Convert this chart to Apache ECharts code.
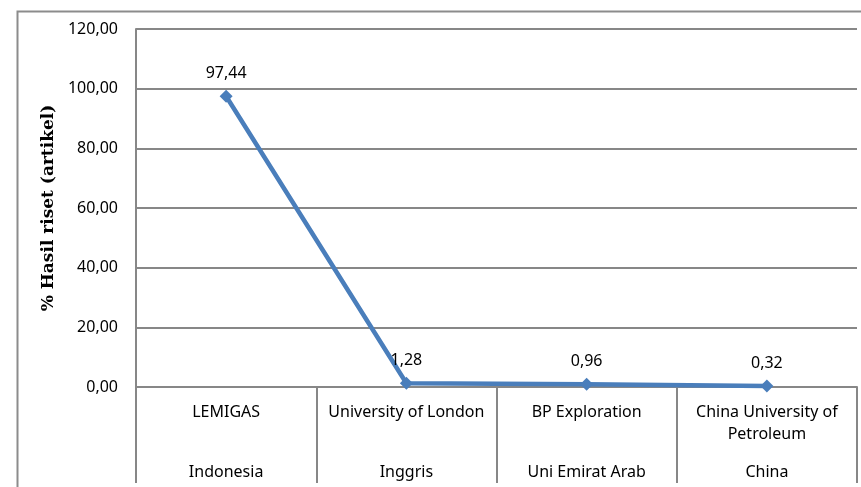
<!DOCTYPE html>
<html>
<head>
<meta charset="utf-8">
<script src="https://cdn.jsdelivr.net/npm/echarts@6/dist/echarts.min.js"></script>
<style>
  html, body { margin: 0; padding: 0; background: #fff; }
  #chart { width: 861px; height: 487px; }
</style>
</head>
<body>
<div id="chart"></div>
<script>
// institusi dan negara (dua tingkat sumbu kategori)
var institutions = ['LEMIGAS', 'University of London', 'BP Exploration', 'China University of\nPetroleum'];
var countries = ['Indonesia', 'Inggris', 'Uni Emirat Arab', 'China'];
var percentValues = [97.44, 1.28, 0.96, 0.32];

var yTicks = { min: 0, max: 120, step: 20 };

var gridColor = '#878787';
var lineColor = '#4A7EBB';
var font = 'Noto Sans';

function commaFmt(v) {
    return Number(v).toFixed(2).replace('.', ',');
}

var chart = echarts.init(document.getElementById('chart'));

chart.setOption({
    animation: false,
    textStyle: { fontFamily: font },
    graphic: [{
        type: 'rect',
        left: 15, top: 9,
        shape: { width: 900, height: 520 },
        style: { fill: 'none', stroke: '#8c8c8c', lineWidth: 2 },
        silent: true,
        z: -1
    }],
    grid: { left: 136, right: 4, top: 29, bottom: 100 },
    xAxis: [{
        type: 'category',
        data: institutions,
        boundaryGap: true,
        axisLine: { show: true, lineStyle: { color: gridColor, width: 2 } },
        axisTick: { show: true, length: 96, lineStyle: { color: gridColor, width: 2 } },
        axisLabel: {
            interval: 0,
            margin: 14,
            verticalAlign: 'top',
            lineHeight: 22,
            fontSize: 16,
            color: '#000',
            fontFamily: font
        }
    }, {
        type: 'category',
        data: countries,
        position: 'bottom',
        boundaryGap: true,
        axisLine: { show: false },
        axisTick: { show: false },
        axisLabel: {
            interval: 0,
            margin: 74,
            verticalAlign: 'top',
            lineHeight: 22,
            fontSize: 16,
            color: '#000',
            fontFamily: font
        }
    }],
    yAxis: {
        type: 'value',
        min: yTicks.min,
        max: yTicks.max,
        interval: yTicks.step,
        name: '% Hasil riset (artikel)',
        nameLocation: 'middle',
        nameRotate: 90,
        nameGap: 75,
        nameTextStyle: { fontWeight: 'bold', fontSize: 17, color: '#000', fontFamily: 'DejaVu Serif' },
        axisLine: { show: true, lineStyle: { color: gridColor, width: 2 } },
        axisTick: { show: false },
        axisLabel: {
            margin: 18,
            fontSize: 16,
            color: '#000',
            fontFamily: font,
            formatter: commaFmt
        },
        splitLine: { show: true, lineStyle: { color: gridColor, width: 2 } }
    },
    series: [{
        type: 'line',
        xAxisIndex: 0,
        data: percentValues,
        symbol: 'diamond',
        symbolSize: 13,
        lineStyle: { color: lineColor, width: 4.5 },
        itemStyle: { color: lineColor },
        label: {
            show: true,
            position: 'top',
            distance: 8,
            fontSize: 16,
            color: '#000',
            fontFamily: font,
            formatter: function (p) { return commaFmt(p.value); }
        },
        z: 5
    }]
});
</script>
</body>
</html>
